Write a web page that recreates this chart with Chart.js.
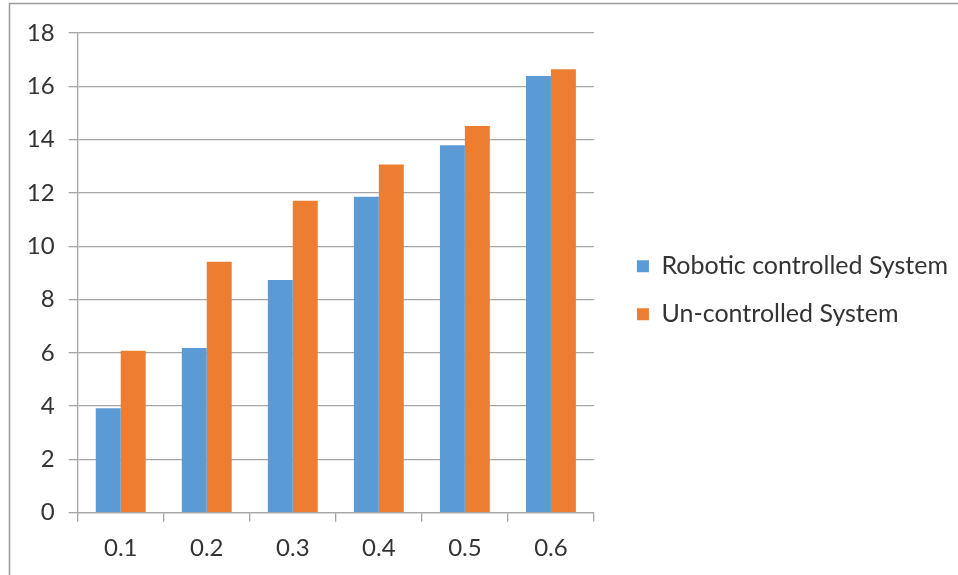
<!DOCTYPE html>
<html>
<head>
<meta charset="utf-8">
<script src="https://cdn.jsdelivr.net/npm/chart.js@4/dist/chart.umd.min.js"></script>
<style>
  html, body { margin: 0; padding: 0; background: #fff; }
  #wrap { width: 958px; height: 575px; position: relative; }
</style>
</head>
<body>
<div id="wrap"><canvas id="c" width="958" height="575"></canvas></div>
<script>
const categories = ['0.1', '0.2', '0.3', '0.4', '0.5', '0.6'];
const roboticControlled = [3.92, 6.18, 8.73, 11.86, 13.79, 16.39];
const unControlled = [6.08, 9.42, 11.71, 13.07, 14.51, 16.64];
const seriesNames = ['Robotic controlled System', 'Un-controlled System'];
const yTicks = { min: 0, max: 18, step: 2 };

const GRID = '#a6a6a6';
const TEXT = '#333333';
const FONT = 'Lato, "Open Sans", sans-serif';
const FONT_SIZE = 24;
const LEGEND_SIZE = 25;

// thin grey frame along the top and left edges
const framePlugin = {
  id: 'frame',
  beforeDraw(chart) {
    const ctx = chart.ctx;
    ctx.save();
    ctx.strokeStyle = '#9a9a9a';
    ctx.lineWidth = 1.5;
    ctx.beginPath();
    ctx.moveTo(9.5, chart.height);
    ctx.lineTo(9.5, 3.5);
    ctx.lineTo(chart.width, 3.5);
    ctx.stroke();
    ctx.restore();
  }
};

function build() {
  new Chart(document.getElementById('c'), {
    type: 'bar',
    data: {
      labels: categories,
      datasets: [
        { label: seriesNames[0], data: roboticControlled, backgroundColor: '#5B9BD5', xAxisID: 'x', yAxisID: 'y' },
        { label: seriesNames[1], data: unControlled, backgroundColor: '#ED7D31', xAxisID: 'x', yAxisID: 'y' }
      ]
    },
    options: {
      responsive: false,
      animation: false,
      devicePixelRatio: 1,
      layout: { padding: { top: 10, bottom: 4.6, left: 0, right: 0 } },
      datasets: { bar: { barPercentage: 1, categoryPercentage: 0.58 } },
      scales: {
        x: {
          position: 'bottom',
          grid: { display: true, drawOnChartArea: false, drawTicks: true, tickLength: 9, color: GRID, lineWidth: 1.3, offset: true },
          border: { display: true, color: GRID, width: 1.3 },
          ticks: { color: TEXT, font: { family: FONT, size: FONT_SIZE }, padding: 12 },
          afterFit(s) { s.height = 57.7; }
        },
        xTop: {
          type: 'category',
          position: 'top',
          display: true,
          grid: { display: false },
          border: { display: false },
          ticks: { display: false },
          afterFit(s) { s.height = 23; }
        },
        y: {
          position: 'left',
          min: yTicks.min,
          max: yTicks.max,
          grid: { color: GRID, lineWidth: 1.3, drawTicks: true, tickLength: 9 },
          border: { display: true, color: GRID, width: 1.3 },
          ticks: { stepSize: yTicks.step, color: TEXT, font: { family: FONT, size: FONT_SIZE }, padding: 14 },
          afterFit(s) { s.width = 77.7; }
        },
        yGap: {
          type: 'linear',
          position: 'right',
          display: true,
          grid: { display: false },
          border: { display: false },
          ticks: { display: false },
          afterFit(s) { s.width = 20; }
        }
      },
      plugins: {
        legend: {
          position: 'right',
          align: 'center',
          maxWidth: 420,
          labels: {
            boxWidth: 12,
            boxHeight: 12,
            padding: 23,
            color: TEXT,
            font: { family: FONT, size: LEGEND_SIZE }
          }
        },
        tooltip: { enabled: false }
      }
    },
    plugins: [framePlugin]
  });
}

if (document.fonts && document.fonts.load) {
  document.fonts.load(FONT_SIZE + 'px Lato').then(build, build);
} else {
  build();
}
</script>
</body>
</html>
